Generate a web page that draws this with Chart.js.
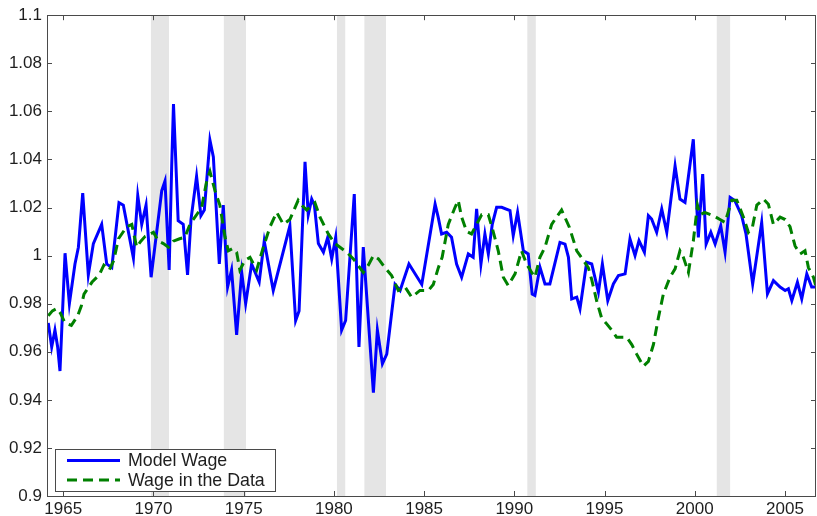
<!DOCTYPE html>
<html>
<head>
<meta charset="utf-8">
<script src="https://cdn.jsdelivr.net/npm/chart.js@4/dist/chart.umd.min.js"></script>
<style>
  body { margin: 0; background: #fff; }
  #wrap { width: 817px; height: 516px; }
</style>
</head>
<body>
<div id="wrap"><canvas id="myChart" width="817" height="516"></canvas></div>
<script>
// model wage (blue)
const modelYears = [1964.17, 1964.36, 1964.54, 1964.69, 1964.82, 1965.10, 1965.34, 1965.65, 1965.84, 1966.08,
  1966.39, 1966.67, 1967.13, 1967.41, 1967.69, 1968.09, 1968.33, 1968.89, 1969.13, 1969.35,
  1969.59, 1969.87, 1970.46, 1970.64, 1970.87, 1971.01, 1971.11, 1971.37, 1971.65, 1971.89,
  1972.08, 1972.39, 1972.63, 1972.82, 1973.13, 1973.32, 1973.65, 1973.87, 1974.11, 1974.33,
  1974.61, 1974.89, 1975.11, 1975.44, 1975.86, 1976.14, 1976.64, 1977.56, 1977.88, 1978.07,
  1978.40, 1978.58, 1978.77, 1978.92, 1979.14, 1979.42, 1979.66, 1979.88, 1980.10, 1980.43,
  1980.65, 1981.13, 1981.39, 1981.63, 1982.19, 1982.41, 1982.69, 1982.93, 1983.39, 1983.67,
  1984.16, 1984.87, 1985.61, 1985.78, 1985.97, 1986.25, 1986.52, 1986.80, 1987.08, 1987.45,
  1987.72, 1987.91, 1988.15, 1988.37, 1988.56, 1988.78, 1989.02, 1989.30, 1989.76, 1989.94,
  1990.18, 1990.50, 1990.77, 1990.99, 1991.14, 1991.42, 1991.70, 1991.97, 1992.53, 1992.81,
  1993.00, 1993.18, 1993.46, 1993.64, 1994.01, 1994.29, 1994.66, 1994.88, 1995.18, 1995.49,
  1995.77, 1996.14, 1996.41, 1996.69, 1996.91, 1997.21, 1997.43, 1997.61, 1997.89, 1998.17,
  1998.45, 1998.91, 1999.18, 1999.46, 1999.92, 2000.20, 2000.44, 2000.63, 2000.89, 2001.13,
  2001.44, 2001.68, 2001.96, 2002.23, 2002.60, 2002.84, 2003.21, 2003.71, 2004.03, 2004.36,
  2004.73, 2005.01, 2005.19, 2005.38, 2005.69, 2005.93, 2006.21, 2006.48, 2006.76];
const modelWage = [0.972, 0.962, 0.969, 0.962, 0.952, 1.001, 0.980, 0.9965, 1.0035, 1.026,
  0.992, 1.005, 1.013, 0.9965, 0.995, 1.022, 1.021, 0.999, 1.025, 1.013,
  1.021, 0.991, 1.027, 1.031, 0.994, 1.037, 1.063, 1.0145, 1.013, 0.992,
  1.015, 1.033, 1.0166, 1.019, 1.048, 1.041, 0.9965, 1.021, 0.987, 0.994,
  0.967, 0.993, 0.980, 0.9965, 0.989, 1.006, 0.9855, 1.0124, 0.973, 0.977,
  1.039, 1.017, 1.0235, 1.021, 1.005, 1.0014, 1.0076, 0.9986, 1.0076, 0.969,
  0.973, 1.0256, 0.962, 1.0035, 0.943, 0.969, 0.955, 0.959, 0.988, 0.9855,
  0.9965, 0.988, 1.0214, 1.016, 1.009, 1.0097, 1.0076, 0.9965, 0.991, 1.0007,
  0.9993, 1.0194, 0.9965, 1.009, 1.0007, 1.0131, 1.0201, 1.0201, 1.0187, 1.0083,
  1.018, 1.002, 1.0007, 0.984, 0.9834, 0.9952, 0.9882, 0.9882, 1.0055, 1.0048,
  0.9993, 0.982, 0.9827, 0.9779, 0.9972, 0.9965, 0.9848, 0.9965, 0.9813, 0.9882,
  0.9917, 0.9924, 1.0069, 1.0, 1.0062, 1.0014, 1.0166, 1.0152, 1.0097, 1.0194,
  1.0097, 1.0373, 1.0235, 1.0221, 1.0484, 1.0076, 1.0339, 1.0048, 1.0097, 1.0048,
  1.0124, 1.0014, 1.0242, 1.0228, 1.0166, 1.009, 0.9882, 1.0138, 0.9841, 0.9896,
  0.9869, 0.9855, 0.9862, 0.9813, 0.9889, 0.982, 0.9924, 0.9869, 0.9869];

// wage in the data (green dashed)
const dataYears = [1964.17, 1964.40, 1964.65, 1964.85, 1965.10, 1965.45, 1965.80, 1966.00, 1966.15, 1966.60,
  1967.00, 1967.25, 1967.55, 1967.80, 1968.06, 1968.52, 1968.80, 1969.07, 1969.30, 1969.54,
  1970.00, 1970.27, 1970.55, 1970.83, 1971.10, 1971.45, 1971.74, 1972.02, 1972.30, 1972.67,
  1972.95, 1973.13, 1973.41, 1973.68, 1973.96, 1974.15, 1974.40, 1974.61, 1974.79, 1975.07,
  1975.35, 1975.72, 1976.09, 1976.46, 1976.83, 1977.20, 1977.56, 1978.02, 1978.21, 1978.49,
  1978.95, 1979.23, 1979.69, 1980.06, 1980.71, 1981.08, 1981.63, 1981.91, 1982.19, 1982.47,
  1982.83, 1983.20, 1983.57, 1983.94, 1984.31, 1984.77, 1985.24, 1985.51, 1985.79, 1986.00,
  1986.34, 1986.71, 1986.89, 1987.08, 1987.36, 1987.63, 1987.91, 1988.19, 1988.56, 1988.83,
  1989.11, 1989.39, 1989.66, 1990.04, 1990.40, 1990.68, 1990.96, 1991.14, 1991.42, 1991.70,
  1992.07, 1992.34, 1992.62, 1993.05, 1993.46, 1993.83, 1994.10, 1994.29, 1994.57, 1994.84,
  1995.12, 1995.40, 1995.67, 1995.95, 1996.23, 1996.51, 1996.78, 1997.15, 1997.43, 1997.71,
  1997.98, 1998.26, 1998.63, 1998.91, 1999.18, 1999.37, 1999.65, 1999.92, 2000.15, 2000.29,
  2000.55, 2001.03, 2001.40, 2001.68, 2002.05, 2002.33, 2002.70, 2002.97, 2003.20, 2003.44,
  2003.81, 2004.08, 2004.36, 2004.73, 2005.01, 2005.28, 2005.56, 2005.84, 2006.11, 2006.30,
  2006.58, 2006.76];
const dataWage = [0.975, 0.977, 0.978, 0.976, 0.972, 0.971, 0.975, 0.979, 0.984, 0.989,
  0.992, 0.996, 0.994, 0.998, 1.007, 1.012, 1.013, 1.0035, 1.006, 1.008,
  1.0097, 1.006, 1.005, 1.0035, 1.006, 1.007, 1.0076, 1.013, 1.016, 1.020,
  1.031, 1.035, 1.027, 1.021, 1.008, 1.002, 1.003, 1.0014, 0.994, 0.998,
  0.9993, 0.994, 1.0035, 1.012, 1.018, 1.013, 1.015, 1.023, 1.021, 1.019,
  1.022, 1.016, 1.009, 1.005, 1.0014, 0.9986, 0.993, 0.996, 1.0, 0.9986,
  0.995, 0.9917, 0.9855, 0.987, 0.9827, 0.9855, 0.9855, 0.988, 0.995, 0.9993,
  1.013, 1.020, 1.023, 1.016, 1.010, 1.009, 1.013, 1.017, 1.017, 1.010,
  1.002, 0.991, 0.9876, 0.9924, 1.002, 0.9965, 0.993, 0.991, 0.9993, 1.0035,
  1.013, 1.016, 1.019, 1.0118, 1.002, 0.998, 0.995, 0.990, 0.981, 0.974,
  0.9716, 0.969, 0.966, 0.966, 0.966, 0.963, 0.959, 0.954, 0.956, 0.963,
  0.974, 0.984, 0.991, 0.9945, 1.002, 0.9993, 0.993, 1.006, 1.021, 1.017,
  1.018, 1.0166, 1.015, 1.0138, 1.023, 1.023, 1.016, 1.0097, 1.012, 1.021,
  1.0235, 1.0214, 1.013, 1.016, 1.015, 1.012, 1.004, 1.0007, 1.002, 0.995,
  0.991, 0.986];

// NBER recessions (grey bands)
const recessionStart = [1969.86, 1973.9, 1980.17, 1981.69, 1990.72, 2001.22];
const recessionEnd = [1970.86, 1975.13, 1980.63, 1982.89, 1991.19, 2001.96];

const xTicks = [1965, 1970, 1975, 1980, 1985, 1990, 1995, 2000, 2005];
const yTicks = [0.9, 0.92, 0.94, 0.96, 0.98, 1, 1.02, 1.04, 1.06, 1.08, 1.1];
const yTickLabels = ['0.9', '0.92', '0.94', '0.96', '0.98', '1', '1.02', '1.04', '1.06', '1.08', '1.1'];

const legendItems = ['Model Wage', 'Wage in the Data'];

const fontFamily = '"Liberation Sans", Arial, Helvetica, sans-serif';
const textColor = '#1e1e1e';
const axisColor = '#4a4a4a';

const recessionPlugin = {
  id: 'recessions',
  beforeDatasetsDraw(chart) {
    const { ctx, chartArea, scales } = chart;
    ctx.save();
    ctx.fillStyle = '#e5e5e5';
    recessionStart.forEach((s, k) => {
      const x0 = scales.x.getPixelForValue(s);
      const x1 = scales.x.getPixelForValue(recessionEnd[k]);
      ctx.fillRect(x0, chartArea.top, x1 - x0, chartArea.bottom - chartArea.top);
    });
    ctx.restore();
  }
};

// matlab style box with inward ticks
const boxPlugin = {
  id: 'matlabBox',
  afterDatasetsDraw(chart) {
    const { ctx, chartArea, scales } = chart;
    const { left, right, top, bottom } = chartArea;
    const tl = 5;
    ctx.save();
    ctx.strokeStyle = axisColor;
    ctx.lineWidth = 1;
    ctx.beginPath();
    xTicks.forEach(v => {
      const px = Math.round(scales.x.getPixelForValue(v)) + 0.5;
      ctx.moveTo(px, bottom); ctx.lineTo(px, bottom - tl);
      ctx.moveTo(px, top); ctx.lineTo(px, top + tl);
    });
    yTicks.forEach(v => {
      const py = Math.round(scales.y.getPixelForValue(v)) + 0.5;
      ctx.moveTo(left, py); ctx.lineTo(left + tl, py);
      ctx.moveTo(right, py); ctx.lineTo(right - tl, py);
    });
    ctx.stroke();
    ctx.strokeRect(Math.round(left) + 0.5, Math.round(top) + 0.5,
      Math.round(right - left) - 1, Math.round(bottom - top));
    ctx.restore();
  }
};

const legendPlugin = {
  id: 'boxLegend',
  afterDraw(chart) {
    const { ctx } = chart;
    const bx = 55, by = 449, bw = 220, bh = 42;
    ctx.save();
    ctx.fillStyle = '#fff';
    ctx.fillRect(bx, by, bw, bh);
    ctx.strokeStyle = axisColor;
    ctx.lineWidth = 1;
    ctx.strokeRect(bx + 0.5, by + 0.5, bw, bh);
    const ds = chart.data.datasets;
    legendItems.forEach((label, k) => {
      const yy = by + 11.5 + k * 19.5;
      ctx.strokeStyle = ds[k].borderColor;
      ctx.lineWidth = ds[k].borderWidth;
      ctx.setLineDash(ds[k].borderDash || []);
      ctx.beginPath();
      ctx.moveTo(bx + 12, yy);
      ctx.lineTo(bx + 65, yy);
      ctx.stroke();
      ctx.setLineDash([]);
      ctx.fillStyle = textColor;
      ctx.font = '17.8px ' + fontFamily;
      ctx.textBaseline = 'middle';
      ctx.fillText(label, bx + 73, yy + 1);
    });
    ctx.restore();
  }
};

const ctx = document.getElementById('myChart').getContext('2d');
new Chart(ctx, {
  type: 'line',
  data: {
    datasets: [{
      label: legendItems[0],
      data: modelYears.map((yr, k) => ({ x: yr, y: modelWage[k] })),
      borderColor: '#0000ff',
      borderWidth: 3,
      pointRadius: 0,
      tension: 0,
      order: 2
    }, {
      label: legendItems[1],
      data: dataYears.map((yr, k) => ({ x: yr, y: dataWage[k] })),
      borderColor: '#008000',
      borderWidth: 3,
      borderDash: [10, 6],
      pointRadius: 0,
      tension: 0,
      order: 1
    }]
  },
  options: {
    responsive: false,
    animation: false,
    devicePixelRatio: 1,
    layout: { padding: { top: 14, right: 1, left: 0, bottom: 0 } },
    plugins: {
      legend: { display: false },
      tooltip: { enabled: false }
    },
    scales: {
      x: {
        type: 'linear',
        min: 1964.1,
        max: 2006.72,
        afterBuildTicks: scale => { scale.ticks = xTicks.map(v => ({ value: v })); },
        afterFit: scale => { scale.height = 20; },
        grid: { display: false, drawTicks: false },
        border: { display: false },
        ticks: {
          autoSkip: false,
          maxRotation: 0,
          padding: 3,
          color: textColor,
          font: { family: fontFamily, size: 17 },
          callback: v => String(v)
        }
      },
      y: {
        min: 0.9,
        max: 1.1,
        afterBuildTicks: scale => { scale.ticks = yTicks.map(v => ({ value: v })); },
        afterFit: scale => { scale.width = 47; },
        grid: { display: false, drawTicks: false },
        border: { display: false },
        ticks: {
          padding: 5,
          color: textColor,
          font: { family: fontFamily, size: 17 },
          callback: (v, i) => yTickLabels[i]
        }
      }
    }
  },
  plugins: [recessionPlugin, boxPlugin, legendPlugin]
});
</script>
</body>
</html>
